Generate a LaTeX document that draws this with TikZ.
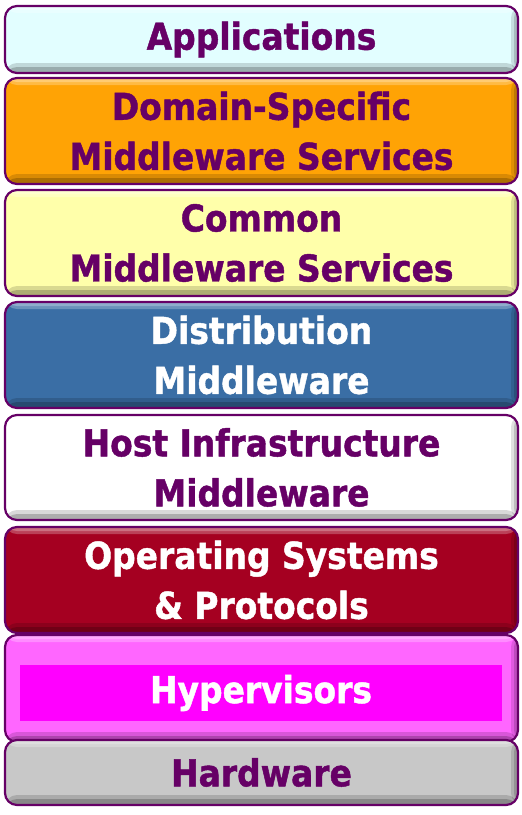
\documentclass[tikz,border=0pt]{standalone}
\usepackage{fontspec}
\newfontfamily\lab{DejaVu Sans}[FakeStretch=0.89, FakeBold=1.2]
\definecolor{edge}{HTML}{660066}
\definecolor{ink}{HTML}{660066}
\definecolor{appc}{HTML}{E2FEFF}
\definecolor{domc}{HTML}{FFA305}
\definecolor{comc}{HTML}{FFFFAA}
\definecolor{distc}{HTML}{3A6EA5}
\definecolor{hostc}{HTML}{FFFFFF}
\definecolor{osc}{HTML}{A50021}
\definecolor{hypc}{HTML}{FF66FF}
\definecolor{hypin}{HTML}{FF00FF}
\definecolor{hwc}{HTML}{C8C8C8}
\tikzset{
  layer/.style={draw=edge, line width=2.2pt, rounded corners=12pt,
    minimum width=513pt, inner sep=0pt, text=ink,
    font=\lab\bfseries\fontsize{37}{50}\selectfont, align=center,
    path picture={
      \fill[white, opacity=.25] ([yshift=-7pt]path picture bounding box.north west) rectangle (path picture bounding box.north east);
      \fill[white, opacity=.25] ([yshift=-4pt]path picture bounding box.north west) rectangle (path picture bounding box.north east);
      \fill[black, opacity=.12] ([xshift=-7pt]path picture bounding box.north east) rectangle (path picture bounding box.south east);
      \fill[black, opacity=.15] ([xshift=-4pt]path picture bounding box.north east) rectangle (path picture bounding box.south east);
      \fill[black, opacity=.15] ([yshift=10pt]path picture bounding box.south west) rectangle (path picture bounding box.south east);
      \fill[black, opacity=.2] ([yshift=6pt]path picture bounding box.south west) rectangle (path picture bounding box.south east);
    }},
  light/.style={text=white},
}
\begin{document}
\begin{tikzpicture}[x=1pt, y=-1pt]
  \useasboundingbox (0,0) rectangle (522,815);
  \node[layer, fill=appc,  minimum height=67pt]  (apps) at (261.5,39.5) {Applications};
  \node[layer, fill=domc,  minimum height=106pt] (dom)  at (261.5,131)  {Domain-Specific\\Middleware Services};
  \node[layer, fill=comc,  minimum height=106pt] (com)  at (261.5,243)  {Common\\Middleware Services};
  \node[layer, light, fill=distc, minimum height=106pt] (dist) at (261.5,355) {Distribution\\Middleware};
  \node[layer, fill=hostc, minimum height=105pt] (host) at (261.5,467.5) {Host Infrastructure\\Middleware};
  \node[layer, light, fill=osc, minimum height=106pt] (os) at (261.5,580) {Operating Systems\\\& Protocols};
  \node[layer, fill=hypc,  minimum height=107pt] (hyp)  at (261.5,688.5) {};
  \node[fill=hypin, minimum width=482pt, minimum height=56pt, inner sep=0pt,
        text=white, font=\lab\bfseries\fontsize{37}{50}\selectfont] (hypbar) at (261,693) {Hypervisors};
  \node[layer, fill=hwc,   minimum height=65pt]  (hw)   at (261.5,772.5) {Hardware};
\end{tikzpicture}
\end{document}
